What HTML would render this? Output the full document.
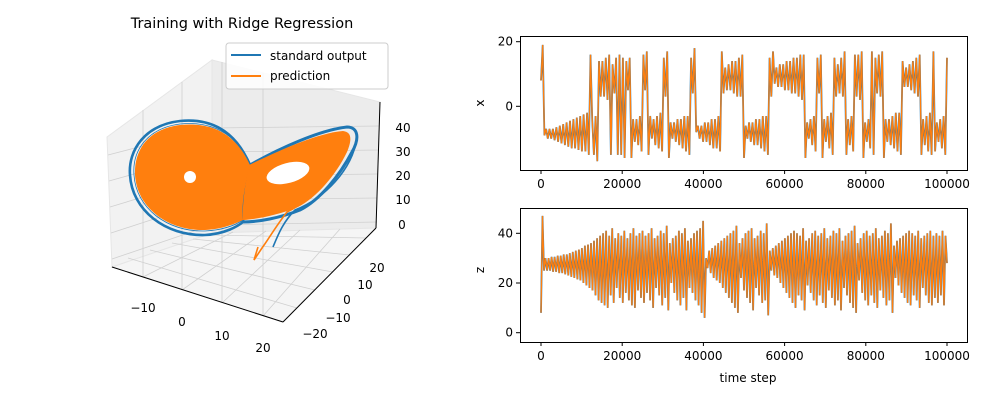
<!DOCTYPE html>
<html><head><meta charset="utf-8">
<style>
body{margin:0;background:#fff;font-family:"Liberation Sans","DejaVu Sans",sans-serif;}
svg text{font-family:"DejaVu Sans","Liberation Sans",sans-serif;font-size:12px;fill:#000;}
</style></head>
<body>
<svg id="fig" width="1000" height="400" viewBox="0 0 1000 400" xmlns="http://www.w3.org/2000/svg">
<rect width="1000" height="400" fill="#fff"/>
<text x="242" y="28" text-anchor="middle" style="font-size:14.5px">Training with Ridge Regression</text>
<g>
  <polygon points="107,137 212,60 212,233 112,267" fill="#f2f2f2" stroke="#e6e6e6"/>
  <polygon points="212,60 380,102 376,228 212,233" fill="#ececec" stroke="#e6e6e6"/>
  <polygon points="212,233 376,228 283,322 112,267" fill="#f5f5f5" stroke="#e6e6e6"/>
  <g stroke="#d0d0d0" stroke-width="0.8" fill="none">
    <line x1="143" y1="277" x2="233" y2="232"/><line x1="182" y1="290" x2="266" y2="231"/><line x1="222" y1="303" x2="300" y2="230"/><line x1="263" y1="316" x2="340" y2="229"/>
    <line x1="143" y1="277" x2="143" y2="110"/><line x1="182" y1="290" x2="182" y2="82"/><line x1="222" y1="303" x2="222" y2="62"/><line x1="263" y1="316" x2="263" y2="73"/>
    <line x1="297" y1="308" x2="128" y2="258"/><line x1="315" y1="290" x2="150" y2="250"/><line x1="333" y1="272" x2="172" y2="243"/><line x1="350" y1="255" x2="193" y2="239"/><line x1="366" y1="238" x2="207" y2="235"/>
    <line x1="212" y1="225" x2="377" y2="222"/><line x1="212" y1="200" x2="377" y2="198"/><line x1="212" y1="176" x2="378" y2="174"/><line x1="212" y1="152" x2="379" y2="150"/><line x1="212" y1="128" x2="379" y2="126"/>
    <line x1="212" y1="225" x2="112" y2="259"/><line x1="212" y1="200" x2="111" y2="233"/><line x1="212" y1="176" x2="110" y2="207"/><line x1="212" y1="152" x2="109" y2="181"/><line x1="212" y1="128" x2="108" y2="155"/>
  </g>
  <g>
    <path d="M357,138 C352,170 325,198 295,210 C283,222 278,235 273,247" fill="none" stroke="#1f77b4" stroke-width="1.6"/>
    <path d="M250,165 C235,130 210,118 180,121 C145,125 128,150 130,175 C132,210 165,236 205,235 C225,234 238,226 243,222 C240,205 245,185 250,165 Z" fill="none" stroke="#1f77b4" stroke-width="2.6"/>
    <path d="M250,165 C280,148 320,130 347,127 C358,127 360,138 352,152 C340,175 320,200 300,210 C280,218 258,222 243,222 C242,205 246,185 250,165 Z" fill="none" stroke="#1f77b4" stroke-width="3"/>
    <path d="M251,165 C236,132 210,121 180,124 C148,128 132,150 134,175 C136,208 167,232 205,231 C225,230 237,224 243,220 C241,205 246,185 251,165 Z" fill="none" stroke="#1f77b4" stroke-width="0.8"/>
    <path d="M345,140 C340,172 312,200 287,212 C276,226 268,240 262,248 L254,260 L258,247" fill="none" stroke="#ff7f0e" stroke-width="1.6"/>
    <path d="M250,165 C235,132 210,122 180,125 C148,129 134,150 135,175 C137,207 167,231 205,230 C224,229 236,223 243,220 C241,205 245,185 250,165 Z" fill="#ff7f0e"/>
    <path d="M249,165 C280,150 318,133 343,131 C352,132 352,140 347,152 C336,175 316,198 298,207 C278,215 258,219 243,220 C242,205 245,185 249,165 Z" fill="#ff7f0e"/>
    <ellipse cx="190" cy="177" rx="6" ry="6" fill="#fff"/>
    <ellipse cx="288" cy="173" rx="22" ry="10" transform="rotate(-15 288 173)" fill="#fff"/>
  </g>
  <g stroke="#000" stroke-width="1">
    <line x1="112" y1="267" x2="283" y2="322"/><line x1="283" y1="322" x2="376" y2="228"/><line x1="380" y1="102" x2="376" y2="228"/>
  </g>
  <g text-anchor="middle">
    <text x="143" y="312">−10</text><text x="182" y="326">0</text><text x="222" y="340">10</text><text x="263" y="352">20</text>
  </g>
  <g text-anchor="middle">
    <text x="315" y="338">−20</text><text x="338" y="322">−10</text><text x="347" y="304">0</text><text x="365" y="289">10</text><text x="377" y="272">20</text>
  </g>
  <g text-anchor="middle">
    <text x="403" y="132">40</text><text x="403" y="156">30</text><text x="403" y="180">20</text><text x="403" y="204">10</text><text x="402" y="229">0</text>
  </g>
  <g>
    <rect x="226" y="43" width="162" height="46" rx="3" fill="#fff" fill-opacity="0.85" stroke="#ccc"/>
    <line x1="231" y1="55" x2="261" y2="55" stroke="#1f77b4" stroke-width="2"/>
    <text x="270" y="60">standard output</text>
    <line x1="231" y1="76" x2="261" y2="76" stroke="#ff7f0e" stroke-width="2"/>
    <text x="270" y="80">prediction</text>
  </g>
</g>
<g id="ts"></g>
</svg>
<script>
const xExtrema=[8,19,-9,-7,-10,-7,-10,-7,-10.5,-6.5,-11,-6,-11.5,-5.5,-12,-5,-12.5,-4.5,-13,-4,-13,-3.5,-13.5,-3,-14,-2.5,-14,-2,-15,
16,-4,-15,-3,-17,14,3,14,3,15,2,16,-15,13,4,15,-15,16,-15,15,-16,14,5,15,-16,-4,-11,-4,-12,-3,-14,16,5,17,-15,-3,-10,-4,-12,-3,-13,-2,-14,15,3,17,-16,-5,-10,-5,-11,-4,-12,-4,-13,-3,-14,-3,-15,15,4,18,-8,-6,-10,-6,-11,-5,-11,-5,-12,-4,-13,-4,-13,-3,-14,17,4,12,5,13,5,14,4,14,3,15,3,16,-16,-6,-10,-5,-11,-5,-12,-4,-12,-4,-13,-3,-14,-3,-15,15,3,17,7,12,6,13,6,13,5,14,5,14,4,15,4,15,3,16,2,16,-16,-5,-10,-4,-12,-3,-14,15,4,16,-16,-4,-11,-3,-13,-2,-15,15,3,13,4,15,3,17,-15,-4,-12,-3,-14,16,3,16,2,17,-16,-5,-11,-4,-13,17,-15,15,4,16,3,17,-16,-4,-11,-4,-12,-3,-13,-2,-14,-2,-15,14,6,12,6,13,5,14,4,15,3,16,-15,-4,-12,-3,-14,-2,-15,17,-14,-5,-11,-4,-13,-3,-15,15];
const zExtrema=[8,47,25,30,25,30,25,30.5,24.5,30.5,24.5,31,24,31,24,31.5,23.5,31.5,23,32,22.5,32.5,22,33,21.5,33.5,21,34,20,35,19,35.5,18,36,17,37,15,38,13,39,12,40,11,41,10,39,15,42,12,38,18,40,14,39,12,41,16,38,13,40,11,42,10,39,17,40,14,41,12,39,16,40,13,42,10,38,18,39,15,41,11,40,14,43,9,36,20,38,16,39,13,41,11,40,14,42,9,37,18,38,16,40,13,41,11,42,8,45,6,30,26,33,24,34,22,35,21,36,20,37,18,38,16,39,14,40,12,41,10,43,8,36,22,38,17,40,14,41,12,42,9,38,18,39,15,41,12,40,13,44,7,33,25,34,23,35,22,36,20,37,18,38,16,39,14,40,12,41,10,40,15,39,13,42,9,37,19,38,16,40,13,41,11,39,15,40,12,42,10,38,17,39,14,41,11,40,13,42,9,37,18,39,15,40,12,41,10,43,8,36,21,38,16,40,13,41,11,39,15,40,12,42,10,38,17,39,14,41,11,40,13,44,8,35,22,37,19,38,16,39,14,40,12,41,11,40,15,39,13,41,10,38,18,39,15,40,12,41,11,39,14,40,12,39,15,41,11,39,28];
const timeTicks=[0,20000,40000,60000,80000,100000];
const xTicks=[0,20];
const zTicks=[0,20,40];
const tMax=100000;
const NS='http://www.w3.org/2000/svg';
const g=document.getElementById('ts');
function el(tag,attrs,parent){const e=document.createElementNS(NS,tag);for(const k in attrs)e.setAttribute(k,attrs[k]);(parent||g).appendChild(e);return e;}
const sx=t=>541+t*(947-541)/100000;
function panel(name,top,bottom,sy,vals,ticks,label,labelY){
  const grp=el('g',{});
  
  
  const n=vals.length;
  const pts=vals.map((v,i)=>sx(i*tMax/(n-1)).toFixed(1)+','+sy(v).toFixed(1)).join(' ');
  const bl=el('polyline',{points:pts,fill:'none',stroke:'#1f77b4','stroke-width':1.8},grp);
  
  
  const or=el('polyline',{points:pts,fill:'none',stroke:'#ff7f0e','stroke-width':1.3},grp);
  
  
  const fr=el('rect',{x:520.5,y:top+0.5,width:447,height:bottom-top,fill:'none',stroke:'#000','stroke-width':1},grp);
  
  
  timeTicks.forEach(t=>{
    el('line',{x1:sx(t),x2:sx(t),y1:bottom+0.5,y2:bottom+4,stroke:'#000'},grp);
    const tx=el('text',{x:sx(t),y:bottom+18,'text-anchor':'middle'},grp);tx.textContent=t;
    
    
  });
  ticks.forEach(v=>{
    el('line',{x1:516,x2:520.5,y1:sy(v),y2:sy(v),stroke:'#000'},grp);
    const tx=el('text',{x:513,y:sy(v)+4,'text-anchor':'end'},grp);tx.textContent=v;
    
    
  });
  const yl=el('text',{x:484,y:labelY,'text-anchor':'middle',transform:'rotate(-90 484 '+labelY+')'},grp);yl.textContent=label;
  
  
}
panel('x-panel',36,170,v=>106.3-v*3.23,xExtrema,xTicks,'x',103);
panel('z-panel',208,342,v=>332.7-v*2.485,zExtrema,zTicks,'z',270);
const xl=el('text',{x:748,y:382,'text-anchor':'middle'});xl.textContent='time step';


</script>
</body></html>
